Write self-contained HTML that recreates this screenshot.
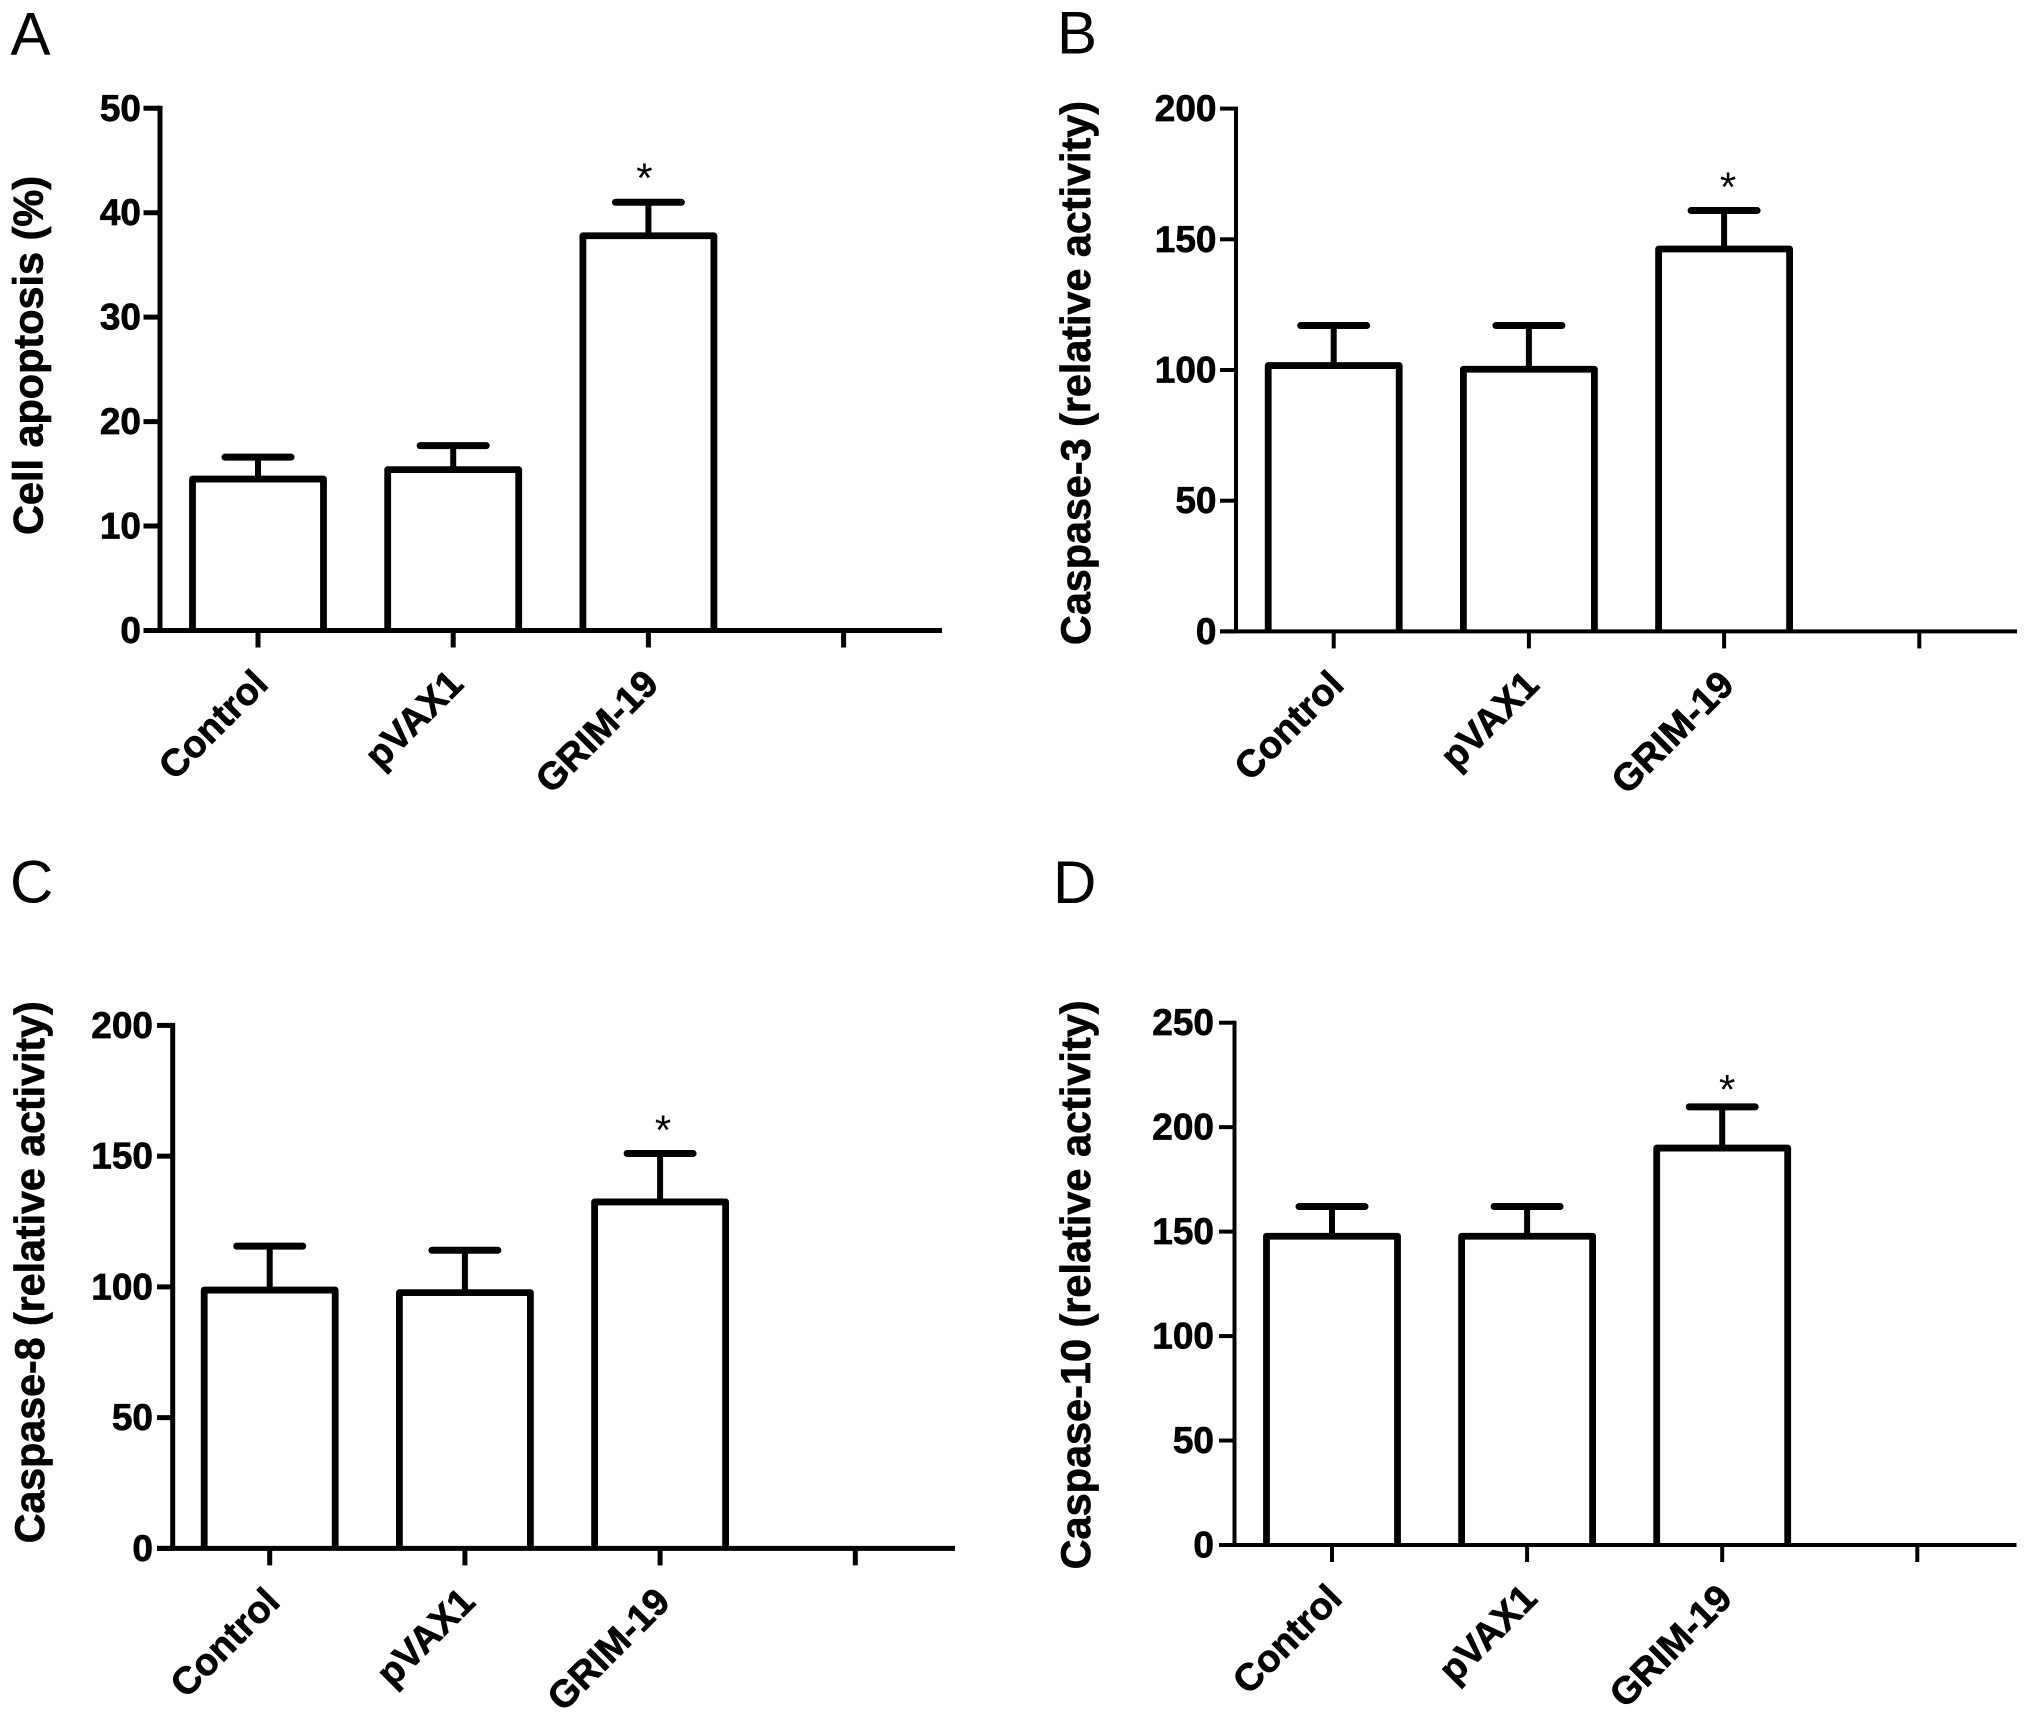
<!DOCTYPE html>
<html lang="en">
<head>
<meta charset="utf-8">
<title>Cell apoptosis and caspase activity</title>
<style>
html,body{margin:0;padding:0;background:#fff;width:2031px;height:1717px;overflow:hidden}
svg{display:block}
text{font-family:"Liberation Sans",Arial,sans-serif;fill:#000}
text.heavy{font-weight:bold;stroke:#000;stroke-width:.7}
</style>
</head>
<body>
<svg id="figure" xmlns="http://www.w3.org/2000/svg" width="2031" height="1717" viewBox="0 0 2031 1717"></svg>
<script>
const categories = ['Control', 'pVAX1', 'GRIM-19', ''];

const panelAMeans = [14.5, 15.4, 37.8];
const panelAErrors = [2.1, 2.3, 3.2];
const panelATicks = [0, 10, 20, 30, 40, 50];

const panelBMeans = [101.7, 100.3, 146.3];
const panelBErrors = [15.3, 16.7, 14.7];
const panelBTicks = [0, 50, 100, 150, 200];

const panelCMeans = [98.8, 97.8, 132.5];
const panelCErrors = [16.8, 16.2, 18.5];
const panelCTicks = [0, 50, 100, 150, 200];

const panelDMeans = [147.8, 147.8, 190];
const panelDErrors = [14.2, 14.2, 19.7];
const panelDTicks = [0, 50, 100, 150, 200, 250];

const panels = [
  {id:'a', letter:'A', title:'Cell apoptosis (%)', means:panelAMeans, errors:panelAErrors, ticks:panelATicks,
   lx:10.5, ly:54.5, tx:42.5, ty:535, tl:359, ax:160, top:108.3, y0:630.5, xs:143.5, xe:942, tickLabelX:141, x0:258, step:195.2, sw:5, so:24, sdx:-4},
  {id:'b', letter:'B', title:'Caspase-3 (relative activity)', means:panelBMeans, errors:panelBErrors, ticks:panelBTicks,
   lx:1057, ly:53.5, tx:1090, ty:645, tl:544, ax:1236, top:108.6, y0:631.4, xs:1220, xe:2017, tickLabelX:1216.5, x0:1333.7, step:195.2, sw:4, so:23, sdx:4},
  {id:'c', letter:'C', title:'Caspase-8 (relative activity)', means:panelCMeans, errors:panelCErrors, ticks:panelCTicks,
   lx:10, ly:902.5, tx:44, ty:1543.3, tl:542, ax:172.7, top:1025.4, y0:1548.4, xs:157, xe:955, tickLabelX:153, x0:269.7, step:195.2, sw:5, so:23, sdx:3},
  {id:'d', letter:'D', title:'Caspase-10 (relative activity)', means:panelDMeans, errors:panelDErrors, ticks:panelDTicks,
   lx:1053, ly:903, tx:1090, ty:1569.4, tl:569, ax:1234.5, top:1022.7, y0:1545, xs:1219, xe:2016.5, tickLabelX:1214, x0:1332, step:195.1, sw:4, so:17, sdx:5}
];

const NS = 'http://www.w3.org/2000/svg';
const svg = document.getElementById('figure');

function el(tag, attrs, parent) {
  const node = document.createElementNS(NS, tag);
  for (const k in attrs) node.setAttribute(k, attrs[k]);
  parent.appendChild(node);
  return node;
}

function drawPanel(p) {
  const maxV = p.ticks[p.ticks.length - 1];
  const y = v => p.y0 - (v / maxV) * (p.y0 - p.top);
  const x = i => p.x0 + i * p.step;

  const g = el('g', {}, svg);
  
  

  const letter = el('text', {x:p.lx, y:p.ly, 'font-size':60}, g);
  letter.textContent = p.letter;
  
  

  const title = el('text', {class:'heavy', transform:'translate(' + p.tx + ',' + p.ty + ') rotate(-90)', 'font-size':42, textLength:p.tl, lengthAdjust:'spacingAndGlyphs'}, g);
  title.textContent = p.title;
  
  

  p.means.forEach((m, i) => {
    const cx = x(i);
    const capY = y(m + p.errors[i]);

    const stem = el('line', {x1:cx, x2:cx, y1:y(m), y2:capY, stroke:'#000', 'stroke-width':6}, g);
    
    

    const cap = el('line', {x1:cx - 33, x2:cx + 33, y1:capY, y2:capY, stroke:'#000', 'stroke-width':7, 'stroke-linecap':'round'}, g);
    
    

    const d = 'M' + (cx - 65.5) + ' ' + p.y0 + 'V' + y(m) + 'H' + (cx + 65.5) + 'V' + p.y0;
    const bar = el('path', {d:d, fill:'#fff', stroke:'#000', 'stroke-width':6.8, 'stroke-linejoin':'round'}, g);
    
    
  });

  const yAxis = el('line', {x1:p.ax, x2:p.ax, y1:y(maxV) - p.sw / 2, y2:p.y0, stroke:'#000', 'stroke-width':p.sw}, g);
  
  

  const xAxis = el('line', {x1:p.xs, x2:p.xe, y1:p.y0, y2:p.y0, stroke:'#000', 'stroke-width':p.sw}, g);
  
  

  p.ticks.forEach(t => {
    const tick = el('line', {x1:p.xs, x2:p.ax, y1:y(t), y2:y(t), stroke:'#000', 'stroke-width':p.sw}, g);
    
    

    const label = el('text', {class:'heavy', x:p.tickLabelX, y:y(t) + 12.5, 'font-size':37, 'text-anchor':'end'}, g);
    label.textContent = t;
    
    
  });

  categories.forEach((c, i) => {
    const tick = el('line', {x1:x(i), x2:x(i), y1:p.y0, y2:p.y0 + 17, stroke:'#000', 'stroke-width':p.sw}, g);
    
    

    if (c) {
      const lx = x(i) + 12;
      const ly = p.y0 + 55.5;
      const label = el('text', {class:'heavy', transform:'translate(' + lx + ',' + ly + ') rotate(-45)', 'font-size':38, 'text-anchor':'end'}, g);
      label.textContent = c;
      
      
    }
  });

  const last = p.means.length - 1;
  const star = el('text', {x:x(last) + p.sdx, y:y(p.means[last] + p.errors[last]) - p.so + 14, 'font-size':42, 'text-anchor':'middle'}, g);
  star.textContent = '*';
  
  
}

panels.forEach(drawPanel);
</script>
</body>
</html>
